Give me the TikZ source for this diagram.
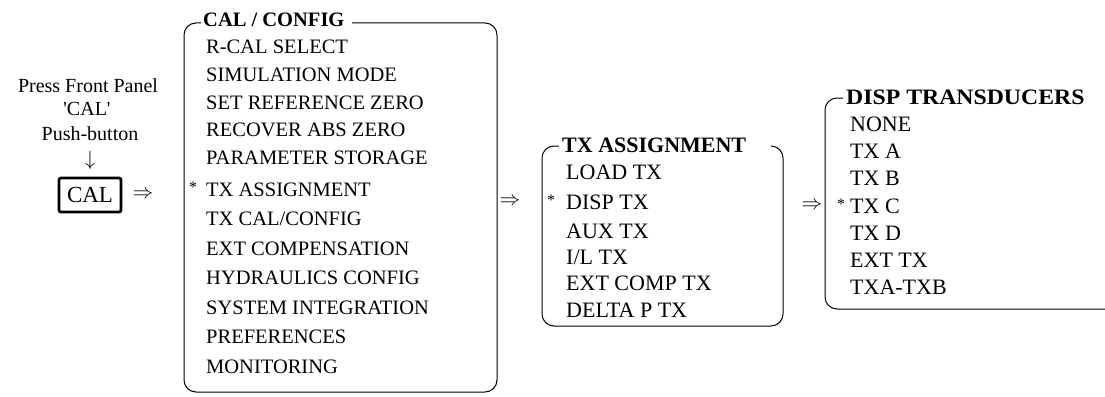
\documentclass[tikz,border=0pt]{standalone}
\usepackage{fontspec}
\setmainfont{Liberation Serif}
\begin{document}
\begin{tikzpicture}[x=1pt,y=-1pt,
  item/.style={anchor=west, inner sep=0pt, text height=14pt, text depth=0pt, font=\fontsize{20.5}{21}\selectfont},
  ttl/.style={anchor=west, inner sep=0pt, text height=14pt, text depth=0pt, font=\fontsize{20.5}{21}\selectfont\bfseries},
  itemb/.style={anchor=west, inner sep=0pt, text height=15pt, text depth=0pt, font=\fontsize{22}{22}\selectfont},
  ttlb/.style={anchor=west, inner sep=0pt, text height=15pt, text depth=0pt, font=\fontsize{22}{22}\selectfont\bfseries},
  star/.style={inner sep=0pt, font=\fontsize{16}{16}\selectfont},
  lbl/.style={inner sep=0pt, font=\fontsize{20}{20}\selectfont},
  dbl/.style={inner sep=0pt, font=\fontsize{21}{21}\selectfont},
  frame/.style={line width=1pt, rounded corners=12pt},
  calbox/.style={draw, line width=2.8pt, rounded corners=2pt, minimum width=62pt, minimum height=34pt, inner sep=0pt, font=\fontsize{23}{23}\selectfont}]
\useasboundingbox (0,0) rectangle (1105,396);
% left column
\node[lbl] (press) at (88,86) {Press Front Panel};
\node[lbl] (calq) at (87,109) {\textquotesingle CAL\textquotesingle};
\node[lbl] (push) at (90,134) {Push-button};
\node[lbl] (down) at (90,160) {$\downarrow$};
\node[calbox] (cal) at (90,195) {CAL};
\node[dbl] (a1) at (143,195) {$\Rightarrow$};
% CAL / CONFIG menu
\node[ttl] (t1) at (203,20) {CAL / CONFIG};
\node[item] (m1) at (206,47) {R-CAL SELECT};
\node[item] (m2) at (206,74.5) {SIMULATION MODE};
\node[item] (m3) at (206,102) {SET REFERENCE ZERO};
\node[item] (m4) at (206,129.5) {RECOVER ABS ZERO};
\node[item] (m5) at (206,157) {PARAMETER STORAGE};
\node[star] (s1) at (193,187) {*};
\node[item] (m6) at (206,189) {TX ASSIGNMENT};
\node[item] (m7) at (206,218.5) {TX CAL/CONFIG};
\node[item] (m8) at (206,248) {EXT COMPENSATION};
\node[item] (m9) at (206,277.5) {HYDRAULICS CONFIG};
\node[item] (m10) at (206,307) {SYSTEM INTEGRATION};
\node[item] (m11) at (206,336.5) {PREFERENCES};
\node[item] (m12) at (206,366) {MONITORING};
\coordinate (f1a) at (352,23);
\coordinate (f1b) at (497,23);
\coordinate (f1c) at (497,392);
\coordinate (f1d) at (184,392);
\coordinate (f1e) at (184,23);
\coordinate (f1f) at (201,23);
\draw[frame] (f1a) -- (f1b) -- (f1c) -- (f1d) -- (f1e) -- (f1f);
\node[dbl] (a2) at (510,202) {$\Rightarrow$};
% TX ASSIGNMENT menu
\node[ttlb] (t2) at (562,145) {TX ASSIGNMENT};
\node[itemb] (n1) at (566,172) {LOAD TX};
\node[star] (s2) at (551,200) {*};
\node[itemb] (n2) at (566,202) {DISP TX};
\node[itemb] (n3) at (566,231) {AUX TX};
\node[itemb] (n4) at (566,257) {I/L TX};
\node[itemb] (n5) at (566,283) {EXT COMP TX};
\node[itemb] (n6) at (566,310) {DELTA P TX};
\coordinate (f2a) at (771,146);
\coordinate (f2b) at (783,146);
\coordinate (f2c) at (783,326);
\coordinate (f2d) at (542,326);
\coordinate (f2e) at (542,146);
\coordinate (f2f) at (559,146);
\draw[frame] (f2a) -- (f2b) -- (f2c) -- (f2d) -- (f2e) -- (f2f);
\node[dbl] (a3) at (812,206) {$\Rightarrow$};
% DISP TRANSDUCERS menu
\node[ttlb] (t3) at (846,97) {\scalebox{1.08}[1]{DISP TRANSDUCERS}};
\node[itemb] (d1) at (850,124) {NONE};
\node[itemb] (d2) at (850,151) {TX A};
\node[itemb] (d3) at (850,178) {TX B};
\node[star] (s3) at (841,204) {*};
\node[itemb] (d4) at (850,206) {TX C};
\node[itemb] (d5) at (850,233) {TX D};
\node[itemb] (d6) at (850,260) {EXT TX};
\node[itemb] (d7) at (850,287) {TXA-TXB};
\coordinate (f3a) at (843,98);
\coordinate (f3b) at (825,98);
\coordinate (f3c) at (825,309);
\coordinate (f3d) at (1105,309);
\draw[frame] (f3a) -- (f3b) -- (f3c) -- (f3d);
\end{tikzpicture}
\end{document}
